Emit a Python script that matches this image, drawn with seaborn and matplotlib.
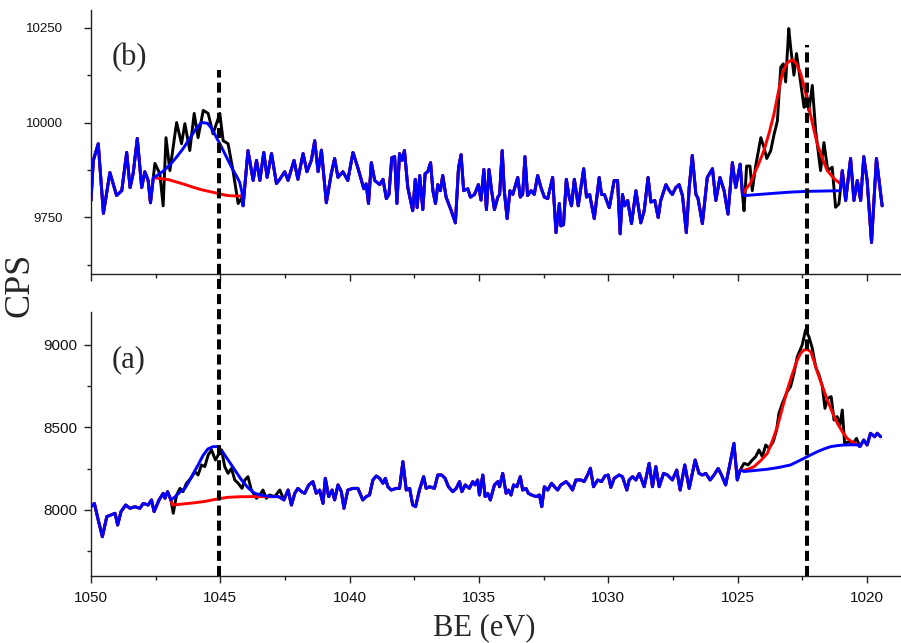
import numpy as np
import matplotlib
matplotlib.use("Agg")
import matplotlib.pyplot as plt
from matplotlib.ticker import MultipleLocator
import seaborn as sns

# ---------------- data: panel (b) ----------------
be_b = [1050.00, 1049.91, 1049.72, 1049.52, 1049.27, 1049.01, 1048.81, 1048.62, 1048.49, 1048.37,
        1048.21, 1048.04, 1047.92, 1047.79, 1047.70, 1047.59, 1047.53, 1047.34, 1047.21, 1047.10,
        1046.95, 1046.69, 1046.50, 1046.37, 1046.18, 1046.01, 1045.86, 1045.66, 1045.47, 1045.28,
        1045.02, 1044.89, 1044.70, 1044.51, 1044.31, 1044.18, 1044.12, 1043.93, 1043.73, 1043.60,
        1043.47, 1043.32, 1043.19, 1043.02, 1042.83, 1042.70, 1042.51, 1042.38, 1042.15, 1042.00,
        1041.80, 1041.65, 1041.48, 1041.35, 1041.22, 1041.09, 1040.90, 1040.71, 1040.58, 1040.45,
        1040.26, 1040.07, 1039.87, 1039.68, 1039.45, 1039.36, 1039.27, 1039.16, 1039.03, 1038.84,
        1038.71, 1038.58, 1038.48, 1038.37, 1038.26, 1038.17, 1038.07, 1037.97, 1037.88, 1037.75,
        1037.56, 1037.46, 1037.39, 1037.29, 1037.17, 1037.08, 1036.98, 1036.87, 1036.78, 1036.68,
        1036.59, 1036.49, 1036.40, 1036.27, 1036.07, 1035.91, 1035.79, 1035.69, 1035.59, 1035.43,
        1035.33, 1035.17, 1035.02, 1034.92, 1034.81, 1034.71, 1034.61, 1034.51, 1034.40, 1034.27,
        1034.20, 1034.10, 1034.02, 1033.91, 1033.80, 1033.69, 1033.50, 1033.40, 1033.31, 1033.22,
        1033.12, 1032.98, 1032.86, 1032.73, 1032.60, 1032.47, 1032.34, 1032.15, 1032.02, 1031.89,
        1031.83, 1031.73, 1031.62, 1031.51, 1031.42, 1031.31, 1031.16, 1030.95, 1030.84, 1030.72,
        1030.54, 1030.35, 1030.26, 1030.15, 1029.96, 1029.77, 1029.64, 1029.54, 1029.45, 1029.36,
        1029.25, 1029.10, 1028.93, 1028.74, 1028.61, 1028.46, 1028.35, 1028.20, 1028.07, 1027.97,
        1027.77, 1027.64, 1027.52, 1027.39, 1027.26, 1027.13, 1026.98, 1026.87, 1026.75, 1026.61,
        1026.53, 1026.36, 1026.17, 1025.97, 1025.84, 1025.68, 1025.52, 1025.37, 1025.20, 1025.07,
        1024.90, 1024.81, 1024.75, 1024.65, 1024.52, 1024.43, 1024.30, 1024.10, 1023.98, 1023.87,
        1023.72, 1023.59, 1023.46, 1023.33, 1023.23, 1023.14, 1023.02, 1022.95, 1022.82, 1022.72,
        1022.59, 1022.43, 1022.33, 1022.24, 1022.11, 1021.98, 1021.79, 1021.66, 1021.51, 1021.34,
        1021.21, 1021.08, 1020.95, 1020.82, 1020.63, 1020.50, 1020.37, 1020.24, 1020.12, 1019.99,
        1019.82, 1019.63, 1019.41]
cps_b = [9794, 9900, 9944, 9760, 9868, 9807, 9820, 9921, 9828, 9865,
         9958, 9828, 9870, 9847, 9788, 9855, 9892, 9865, 9780, 9960,
         9873, 10000, 9944, 9997, 9926, 10024, 9960, 10032, 10024, 9970,
         10024, 9952, 9944, 9873, 9786, 9800, 9780, 9926, 9847, 9900,
         9847, 9921, 9855, 9918, 9839, 9850, 9870, 9847, 9900, 9850,
         9918, 9870, 9900, 9952, 9870, 9927, 9788, 9865, 9905, 9855,
         9870, 9847, 9921, 9880, 9825, 9838, 9786, 9894, 9847, 9836,
         9850, 9799, 9810, 9907, 9910, 9786, 9918, 9900, 9926, 9828,
         9767, 9850, 9775, 9860, 9770, 9865, 9870, 9894, 9820, 9786,
         9836, 9820, 9860, 9803, 9767, 9735, 9880, 9915, 9820, 9825,
         9803, 9810, 9836, 9795, 9876, 9770, 9876, 9820, 9770, 9803,
         9810, 9926, 9820, 9746, 9820, 9810, 9855, 9803, 9810, 9910,
         9807, 9820, 9810, 9860, 9828, 9803, 9799, 9855, 9709, 9786,
         9727, 9730, 9850, 9803, 9780, 9850, 9780, 9878, 9803, 9810,
         9746, 9855, 9810, 9810, 9775, 9847, 9847, 9706, 9810, 9780,
         9794, 9733, 9820, 9735, 9767, 9855, 9790, 9794, 9749, 9794,
         9836, 9820, 9810, 9828, 9836, 9807, 9709, 9828, 9913, 9810,
         9800, 9733, 9855, 9878, 9794, 9855, 9820, 9758, 9894, 9828,
         9890, 9810, 9767, 9885, 9885, 9820, 9885, 9960, 9935, 9905,
         9925, 9968, 10004, 10146, 10155, 10107, 10248, 10200, 10125, 10182,
         10120, 10040, 10075, 10031, 10098, 9978, 9873, 9947, 9873, 9882,
         9776, 9785, 9873, 9794, 9905, 9794, 9847, 9794, 9910, 9847,
         9683, 9905, 9780]

# (b) peak near 1045: fitted envelope (blue) and background (red)
fit_b1_x = [1047.45, 1047.20, 1046.95, 1046.70, 1046.45, 1046.20, 1045.95, 1045.73, 1045.50,
            1045.33, 1045.15, 1044.99, 1044.83, 1044.66, 1044.50, 1044.37, 1044.25, 1044.16]
fit_b1_y = [9860, 9872, 9888, 9908, 9930, 9956, 9982, 10000, 9998,
            9984, 9961, 9940, 9918, 9895, 9873, 9858, 9842, 9815]
bg_b1_x = [1047.45, 1047.00, 1046.80, 1046.40, 1046.05, 1045.70, 1045.30, 1045.00, 1044.70, 1044.40, 1044.16]
bg_b1_y = [9853, 9849, 9845, 9837, 9829, 9822, 9816, 9811, 9807, 9806, 9806]
# (b) peak near 1022: fitted envelope (red) and background (blue)
fit_b2_x = [1024.70, 1024.50, 1024.36, 1024.17, 1023.98, 1023.78, 1023.59, 1023.43, 1023.27, 1023.08,
            1022.88, 1022.72, 1022.56, 1022.40, 1022.24, 1022.08, 1021.92, 1021.72, 1021.53, 1021.27, 1021.02]
fit_b2_y = [9822, 9840, 9864, 9893, 9926, 9972, 10023, 10078, 10129, 10158,
            10166, 10155, 10129, 10088, 10040, 9990, 9944, 9905, 9873, 9852, 9838]
bg_b2_x = [1024.75, 1024.20, 1023.60, 1023.00, 1022.40, 1021.70, 1021.02]
bg_b2_y = [9807, 9810, 9813, 9816, 9818, 9819, 9820]

# ---------------- data: panel (a) ----------------
be_a = [1050.00, 1049.87, 1049.72, 1049.56, 1049.39, 1049.23, 1049.07, 1048.97, 1048.84, 1048.66,
        1048.49, 1048.30, 1048.11, 1047.98, 1047.79, 1047.66, 1047.56, 1047.37, 1047.21, 1047.14,
        1047.04, 1046.91, 1046.82, 1046.69, 1046.56, 1046.44, 1046.31, 1046.14, 1045.98, 1045.86,
        1045.73, 1045.60, 1045.47, 1045.34, 1045.19, 1045.08, 1044.95, 1044.83, 1044.70, 1044.57,
        1044.44, 1044.31, 1044.16, 1044.05, 1043.93, 1043.80, 1043.60, 1043.47, 1043.35, 1043.22,
        1043.09, 1042.90, 1042.70, 1042.54, 1042.38, 1042.25, 1042.12, 1042.00, 1041.86, 1041.74,
        1041.58, 1041.42, 1041.29, 1041.16, 1041.03, 1040.94, 1040.81, 1040.68, 1040.58, 1040.45,
        1040.32, 1040.22, 1040.07, 1039.87, 1039.68, 1039.49, 1039.36, 1039.23, 1039.10, 1038.97,
        1038.84, 1038.71, 1038.62, 1038.52, 1038.39, 1038.20, 1038.07, 1037.94, 1037.81, 1037.68,
        1037.56, 1037.45, 1037.30, 1037.14, 1037.04, 1036.91, 1036.72, 1036.59, 1036.44, 1036.31,
        1036.18, 1036.01, 1035.88, 1035.75, 1035.66, 1035.53, 1035.37, 1035.24, 1035.15, 1035.05,
        1034.98, 1034.85, 1034.76, 1034.66, 1034.56, 1034.40, 1034.27, 1034.20, 1034.08, 1033.95,
        1033.86, 1033.76, 1033.66, 1033.53, 1033.40, 1033.31, 1033.18, 1033.09, 1032.96, 1032.79,
        1032.66, 1032.57, 1032.47, 1032.34, 1032.19, 1032.08, 1031.96, 1031.83, 1031.63, 1031.51,
        1031.38, 1031.25, 1031.05, 1030.93, 1030.80, 1030.69, 1030.57, 1030.41, 1030.26, 1030.13,
        1030.00, 1029.90, 1029.77, 1029.58, 1029.45, 1029.28, 1029.19, 1029.06, 1028.93, 1028.80,
        1028.61, 1028.42, 1028.29, 1028.16, 1028.03, 1027.86, 1027.71, 1027.52, 1027.35, 1027.22,
        1027.04, 1026.87, 1026.64, 1026.49, 1026.36, 1026.23, 1026.06, 1025.91, 1025.75, 1025.62,
        1025.46, 1025.29, 1025.14, 1025.01, 1024.90, 1024.75, 1024.59, 1024.43, 1024.30, 1024.17,
        1024.04, 1023.91, 1023.78, 1023.62, 1023.49, 1023.40, 1023.27, 1023.08, 1022.95, 1022.82,
        1022.69, 1022.50, 1022.37, 1022.24, 1022.11, 1021.98, 1021.85, 1021.72, 1021.62, 1021.51,
        1021.38, 1021.27, 1021.15, 1021.04, 1020.95, 1020.86, 1020.70, 1020.53, 1020.40, 1020.27,
        1020.12, 1019.99, 1019.86, 1019.70, 1019.60, 1019.47]
cps_a = [8020, 8040, 7939, 7838, 7960, 7970, 7980, 7909, 7990, 8030,
         8010, 8020, 8010, 8040, 8030, 8061, 7990, 8061, 8101, 8071,
         8111, 8061, 7980, 8091, 8131, 8111, 8162, 8192, 8232, 8212,
         8273, 8263, 8333, 8364, 8303, 8333, 8364, 8263, 8222, 8252,
         8182, 8162, 8131, 8182, 8202, 8121, 8071, 8091, 8121, 8071,
         8091, 8081, 8121, 8061, 8121, 8030, 8101, 8131, 8111, 8101,
         8152, 8172, 8101, 8121, 8040, 8192, 8081, 8121, 8061, 8152,
         8111, 8010, 8121, 8131, 8131, 8061, 8081, 8091, 8182, 8206,
         8192, 8162, 8192, 8141, 8121, 8131, 8131, 8293, 8121, 8131,
         8030, 8020, 8121, 8202, 8131, 8141, 8131, 8212, 8212, 8192,
         8141, 8111, 8131, 8172, 8111, 8152, 8131, 8172, 8152, 8182,
         8091, 8212, 8081, 8101, 8061, 8152, 8172, 8141, 8222, 8101,
         8121, 8091, 8152, 8141, 8202, 8121, 8131, 8101, 8091, 8081,
         8091, 8020, 8141, 8121, 8162, 8141, 8121, 8152, 8172, 8152,
         8121, 8182, 8182, 8172, 8212, 8253, 8141, 8182, 8172, 8206,
         8212, 8137, 8192, 8212, 8202, 8121, 8182, 8202, 8182, 8222,
         8141, 8283, 8141, 8263, 8141, 8222, 8212, 8182, 8242, 8121,
         8273, 8131, 8303, 8222, 8212, 8222, 8182, 8212, 8252, 8212,
         8152, 8283, 8404, 8182, 8242, 8283, 8273, 8303, 8323, 8364,
         8323, 8394, 8374, 8414, 8485, 8586, 8646, 8717, 8747, 8828,
         8929, 9000, 9091, 9050, 8980, 8868, 8818, 8747, 8616, 8677,
         8687, 8545, 8566, 8515, 8606, 8404, 8414, 8404, 8434, 8384,
         8424, 8394, 8465, 8444, 8465, 8444]

# (a) peak near 1045: fitted envelope (blue) and background (red)
fit_a1_x = [1046.75, 1046.55, 1046.37, 1046.20, 1046.03, 1045.86, 1045.67, 1045.48, 1045.28, 1045.10,
            1044.90, 1044.70, 1044.45, 1044.18, 1043.93, 1043.67, 1043.35, 1043.02, 1042.75]
fit_a1_y = [8080, 8110, 8131, 8175, 8225, 8273, 8330, 8370, 8384, 8384,
            8350, 8303, 8245, 8182, 8135, 8101, 8088, 8081, 8081]
bg_a1_x = [1046.85, 1046.40, 1045.98, 1045.60, 1045.30, 1045.00, 1044.70, 1044.30, 1043.80, 1043.20, 1042.75]
bg_a1_y = [8030, 8037, 8044, 8052, 8061, 8070, 8077, 8080, 8081, 8081, 8081]
# (a) peak near 1022: fitted envelope (red) and background (blue)
fit_a2_x = [1024.75, 1024.55, 1024.36, 1024.10, 1023.85, 1023.65, 1023.46, 1023.27, 1023.08, 1022.88,
            1022.69, 1022.56, 1022.43, 1022.30, 1022.17, 1022.05, 1021.92, 1021.72, 1021.53, 1021.33,
            1021.14, 1020.95, 1020.76, 1020.55, 1020.35]
fit_a2_y = [8240, 8250, 8263, 8300, 8343, 8420, 8505, 8615, 8727, 8825,
            8909, 8950, 8970, 8972, 8960, 8905, 8838, 8750, 8667, 8590,
            8525, 8475, 8434, 8410, 8396]
bg_a2_x = [1024.75, 1024.30, 1023.85, 1023.40, 1022.95, 1022.70, 1022.43, 1022.17, 1021.92, 1021.66,
           1021.40, 1021.15, 1020.90, 1020.60, 1020.35]
bg_a2_y = [8233, 8240, 8247, 8258, 8273, 8292, 8313, 8334, 8353, 8370,
           8384, 8390, 8394, 8395, 8395]

peak_lines = [1045.05, 1022.3]
x_ticks = [1050, 1045, 1040, 1035, 1030, 1025, 1020]


def compose(x, y, regions):
    """Data outside the fitted windows, curve points inside them."""
    x = np.asarray(x, float)
    y = np.asarray(y, float)
    keep = np.ones(len(x), bool)
    xs, ys = [], []
    for hi, lo, cx, cy in regions:
        keep &= ~((x < hi) & (x > lo))
        xs.append(np.asarray(cx, float))
        ys.append(np.asarray(cy, float))
    X = np.concatenate([x[keep]] + xs)
    Y = np.concatenate([y[keep]] + ys)
    order = np.argsort(-X)
    return X[order], Y[order]


sns.set_style("ticks")
plt.rcParams['font.family'] = ['Liberation Sans', 'DejaVu Sans']
plt.rcParams['axes.linewidth'] = 1.0
SERIF = ["Liberation Serif", "DejaVu Serif"]

fig = plt.figure(figsize=(9.01, 6.43), dpi=100)
B_POS = [0.101, 0.5739, 0.899, 0.4105]
A_POS = [0.101, 0.1042, 0.899, 0.4106]
ax_b = fig.add_axes(B_POS)
ax_a = fig.add_axes(A_POS)

panels = [
    (ax_b, be_b, cps_b,
     [(1047.59, 1044.12, bg_b1_x, bg_b1_y), (1024.81, 1020.95, fit_b2_x, fit_b2_y)],
     [(1047.59, 1044.12, fit_b1_x, fit_b1_y), (1024.81, 1020.95, bg_b2_x, bg_b2_y)],
     (9600, 10297), 250, 125, "(b)", 9.5, 15),
    (ax_a, be_a, cps_a,
     [(1046.91, 1042.54, bg_a1_x, bg_a1_y), (1024.90, 1020.27, fit_a2_x, fit_a2_y)],
     [(1046.91, 1042.54, fit_a1_x, fit_a1_y), (1024.90, 1020.27, bg_a2_x, bg_a2_y)],
     (7600, 9200), 500, 250, "(a)", 11, 5),
]

for ax, bx, by, red_regions, blue_regions, ylim, ymaj, ymin_, lab, lsize, ypad in panels:
    sns.lineplot(x=bx, y=by, ax=ax, color="black", lw=2.1, sort=False, estimator=None, zorder=2)
    rx, ry = compose(bx, by, red_regions)
    sns.lineplot(x=rx, y=ry, ax=ax, color="#ff0000", lw=2.1, sort=False, estimator=None, zorder=3)
    ux, uy = compose(bx, by, blue_regions)
    sns.lineplot(x=ux, y=uy, ax=ax, color="#0000ff", lw=2.1, sort=False, estimator=None, zorder=4)

    ax.set_xlim(1050, 1018.68)
    ax.set_ylim(*ylim)
    ax.set_xticks(x_ticks)
    ax.xaxis.set_minor_locator(MultipleLocator(2.5))
    ax.yaxis.set_major_locator(MultipleLocator(ymaj))
    ax.yaxis.set_minor_locator(MultipleLocator(ymin_))
    ax.tick_params(which="major", direction="out", length=5, width=1.0, labelsize=lsize,
                   color="#222222", labelcolor="#111111")
    ax.tick_params(which="minor", direction="out", length=3, width=1.0, color="#222222")
    ax.tick_params(axis="y", pad=ypad)
    ax.tick_params(axis="x", pad=6)
    for s in ("top", "right"):
        ax.spines[s].set_visible(False)
    for s in ("left", "bottom"):
        ax.spines[s].set_color("#222222")
    ax.set_xlabel("")
    ax.set_ylabel("")
    ax.text(0.026, 0.82, lab, transform=ax.transAxes, fontsize=22,
            family=SERIF, ha="left", va="center")

ax_b.tick_params(axis="x", labelbottom=False)

# dashed reference lines across both panels (drawn in the lower axes, which is rendered last)
def to_a(frac_in_b):
    fy = B_POS[1] + frac_in_b * B_POS[3]
    return (fy - A_POS[1]) / A_POS[3]

for xv, top_b in zip(peak_lines, [0.773, 0.867]):
    ax_a.axvline(xv, ymin=0, ymax=to_a(top_b), clip_on=False, color="black",
                 lw=2.9, ls=(0, (2.5, 1.25)), zorder=6)

fig.text(0.022, 0.557, "CPS", rotation=90, ha="center", va="center", fontsize=26,
         family=SERIF)
fig.text(0.537, 0.024, "BE (eV)", ha="center", va="center", fontsize=22,
         family=SERIF)

fig.savefig("out.png", dpi=100)
